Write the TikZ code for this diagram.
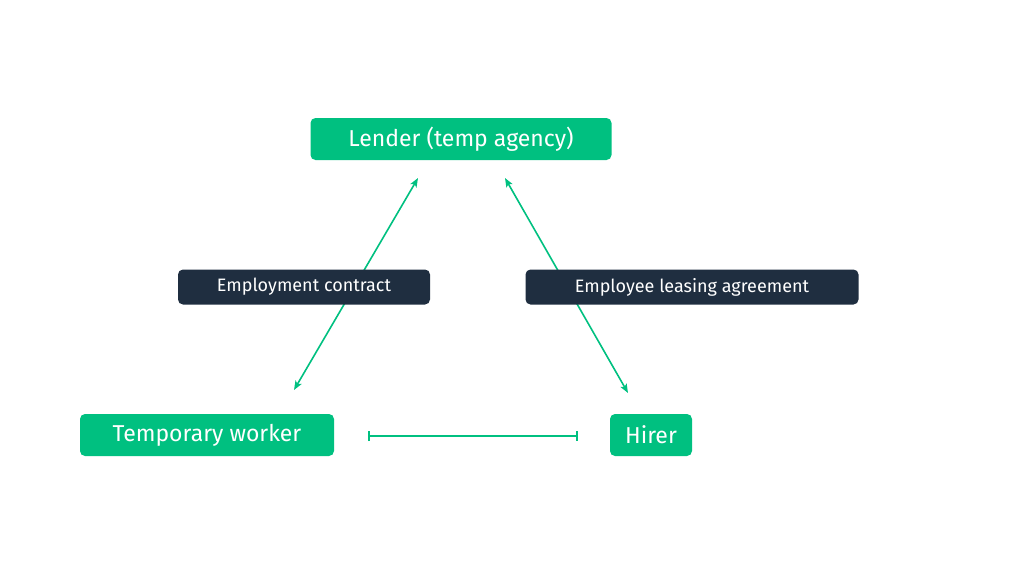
\documentclass[tikz,border=0pt]{standalone}
\usepackage{fontspec}
\setmainfont{Fira Sans}
\usetikzlibrary{arrows.meta}
\definecolor{grn}{HTML}{00C080}
\definecolor{drk}{HTML}{1F2E40}
\begin{document}
\begin{tikzpicture}[x=1pt,y=-1pt,
  gbox/.style={fill=grn,text=white,rounded corners=5pt,font=\fontsize{23}{26}\selectfont,inner sep=0pt,minimum height=42pt},
  dbox/.style={fill=drk,text=white,rounded corners=5pt,font=\fontsize{18}{21}\selectfont,inner sep=0pt,minimum height=35pt},
  conn/.style={grn,line width=1.6pt,{Stealth[length=9pt,width=7pt,inset=2pt]}-{Stealth[length=9pt,width=7pt,inset=2pt]}}]
\useasboundingbox (0,0) rectangle (1024,576);
\node[gbox,minimum width=301pt] (L) at (461,139) {Lender (temp agency)};
\node[gbox,minimum width=254pt] (T) at (207,435) {Temporary worker};
\node[gbox,minimum width=82pt] (H) at (651,435) {Hirer};
\coordinate (a1) at (418,178); \coordinate (a2) at (294,390);
\coordinate (b1) at (505,178); \coordinate (b2) at (628,393);
\coordinate (c1) at (368,436); \coordinate (c2) at (578,436);
\draw[conn] (a1) -- (a2);
\draw[conn] (b1) -- (b2);
\draw[grn,line width=1.6pt,{Bar[width=10pt]}-{Bar[width=10pt]}] (c1) -- (c2);
\node[dbox,minimum width=252pt] (E) at (304,287) {Employment contract};
\node[dbox,minimum width=333pt] (A) at (692,287) {Employee leasing agreement};
\end{tikzpicture}
\end{document}
